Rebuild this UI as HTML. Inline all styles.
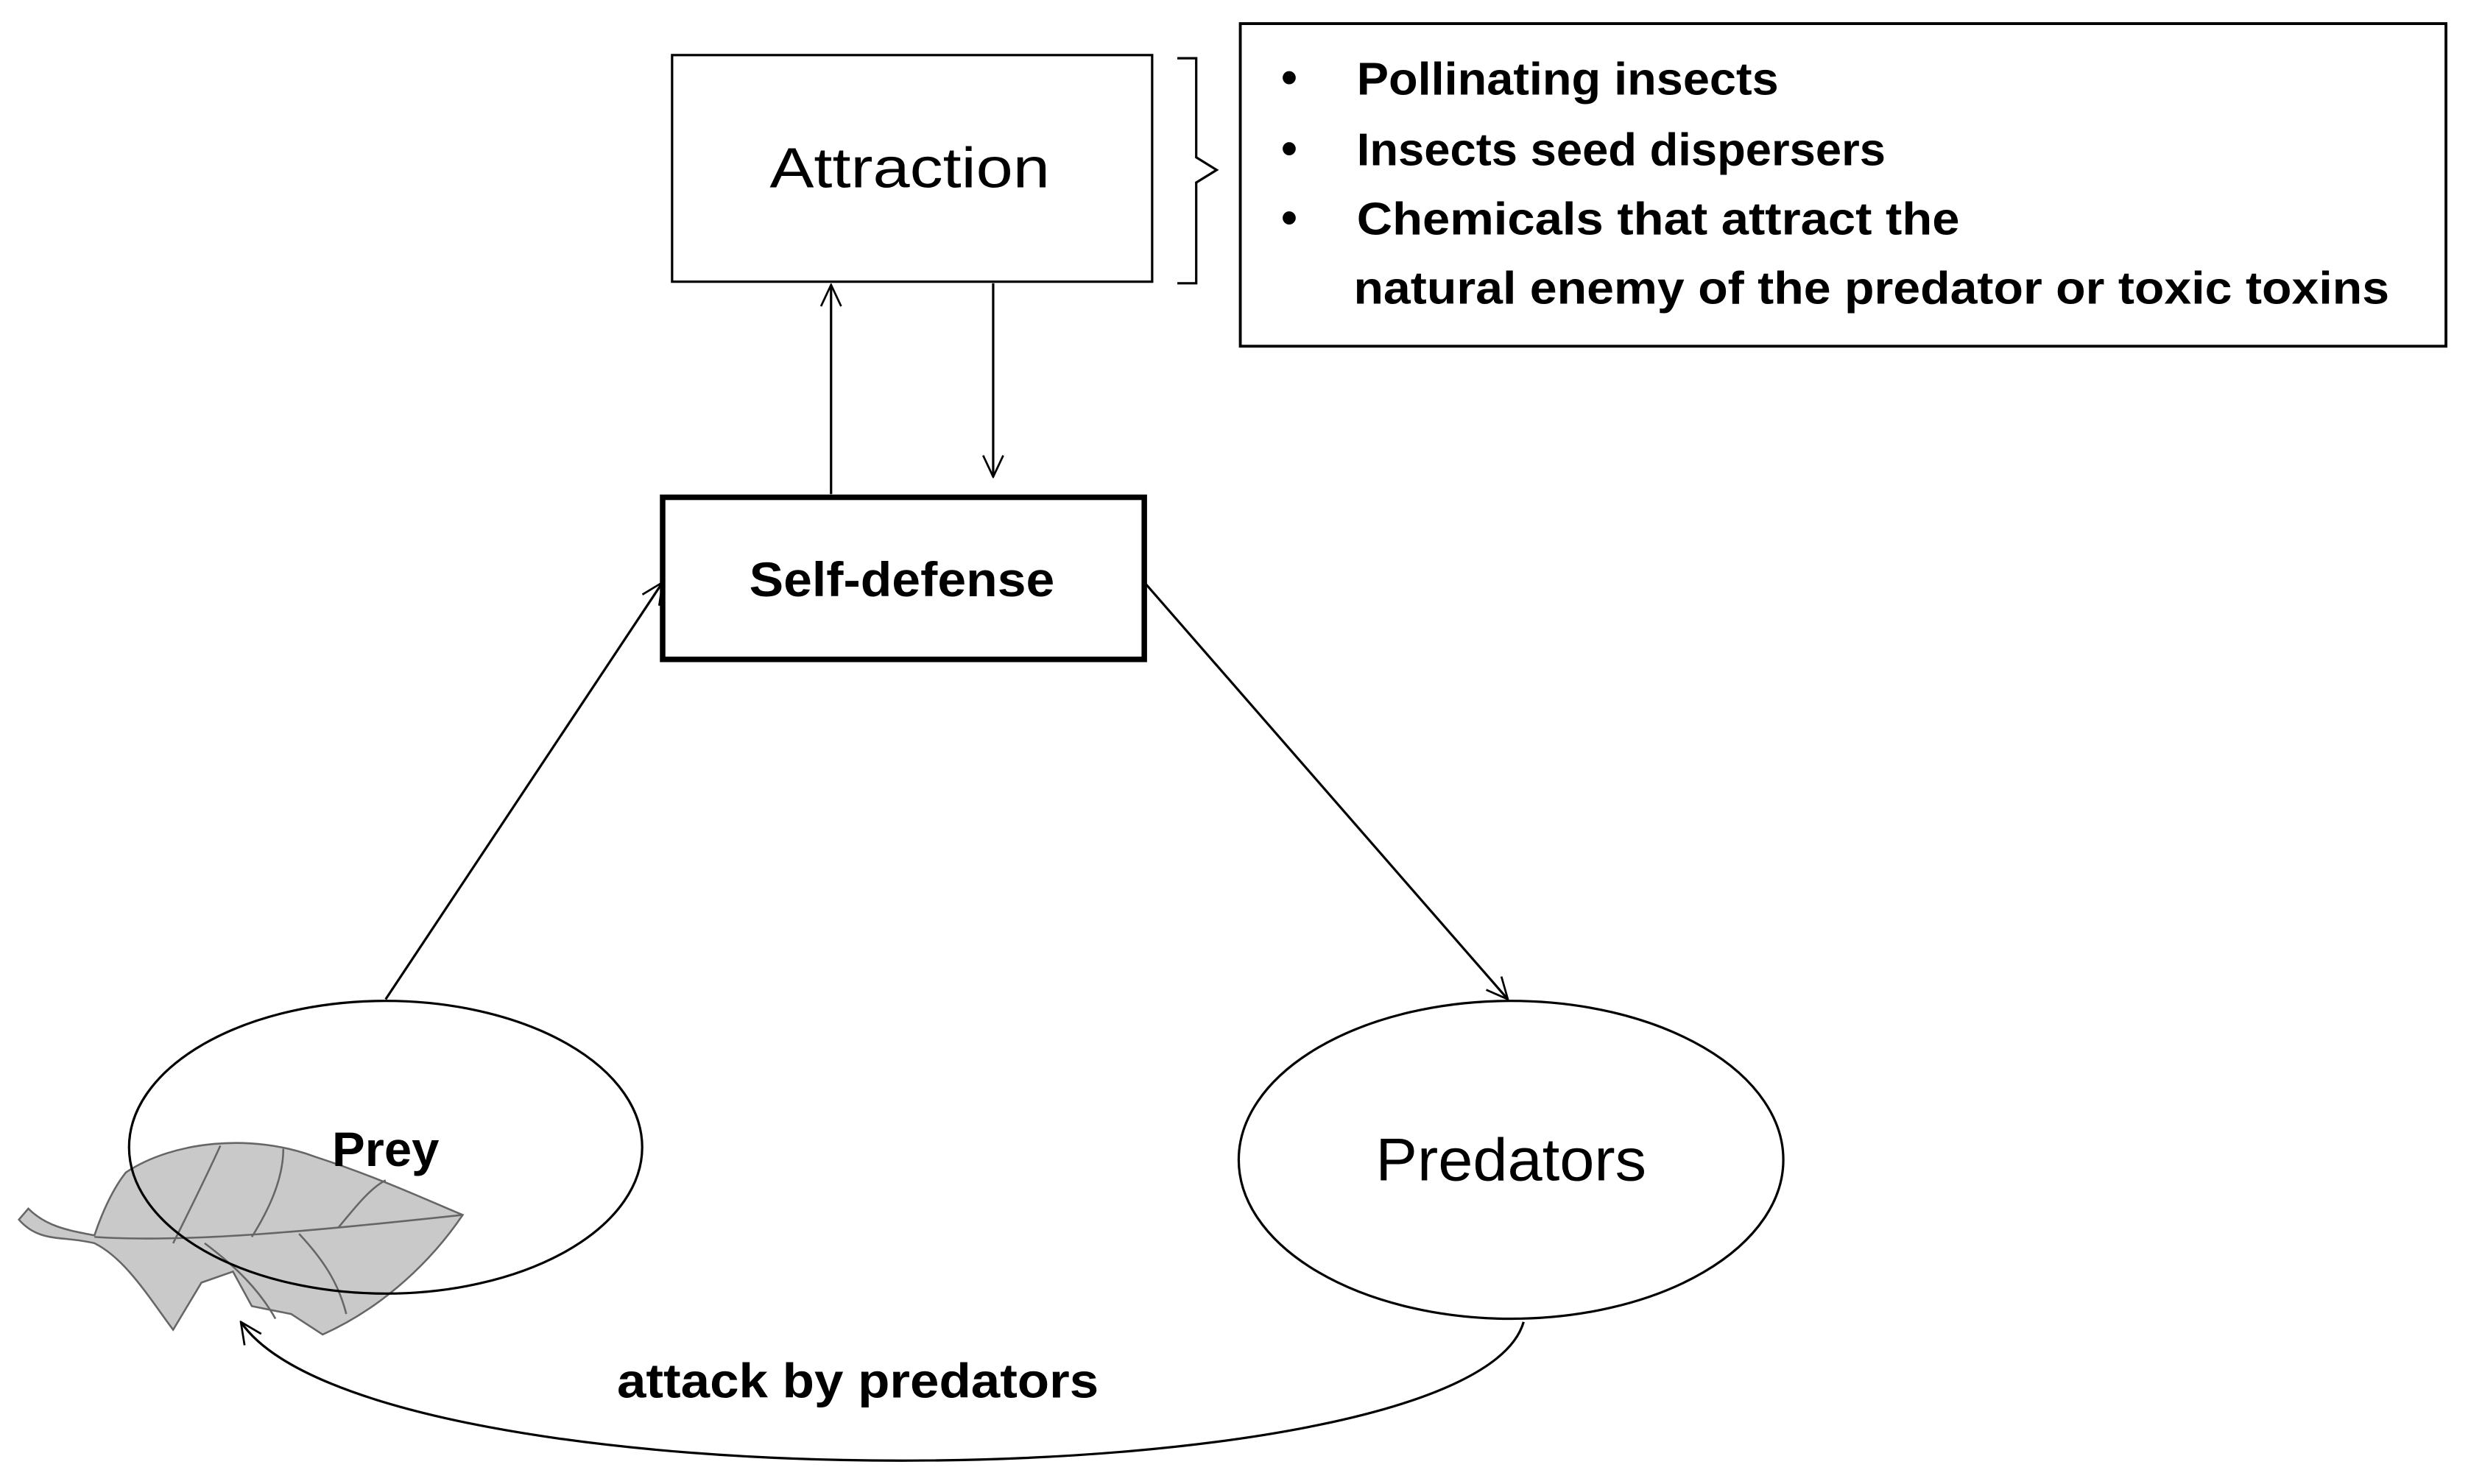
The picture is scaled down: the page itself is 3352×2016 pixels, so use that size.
<!DOCTYPE html>
<html><head><meta charset="utf-8"><style>
html,body{margin:0;padding:0;background:#fff;}
svg{display:block;}
text{font-family:"Liberation Sans",sans-serif;fill:#000;}
</style></head><body>
<svg width="3352" height="2016" viewBox="0 0 1568 943" preserveAspectRatio="none" xmlns="http://www.w3.org/2000/svg">
<defs>
<marker id="a" viewBox="0 0 20 20" refX="19" refY="10" markerWidth="16" markerHeight="16" markerUnits="userSpaceOnUse" orient="auto">
<path d="M2,2 L19,10 L2,18" fill="none" stroke="#000" stroke-width="1.6"/>
</marker>
</defs>
<rect width="1568" height="943" fill="#fff"/>
<rect x="427" y="35" width="305" height="144" fill="none" stroke="#000" stroke-width="1.5"/>
<text x="578" y="119" font-size="36" text-anchor="middle" textLength="178" lengthAdjust="spacingAndGlyphs">Attraction</text>
<path d="M748,37 H760 V100 L773,108 L760,116 V180 H748" fill="none" stroke="#000" stroke-width="1.5"/>
<rect x="788" y="15" width="766" height="205" fill="none" stroke="#000" stroke-width="1.8"/>
<g font-size="29" font-weight="bold">
<text x="814" y="59">•</text>
<text x="814" y="104">•</text>
<text x="814" y="148">•</text>
<text x="862" y="60" textLength="268" lengthAdjust="spacingAndGlyphs">Pollinating insects</text>
<text x="862" y="105" textLength="336" lengthAdjust="spacingAndGlyphs">Insects seed dispersers</text>
<text x="862" y="149" textLength="383" lengthAdjust="spacingAndGlyphs">Chemicals that attract the</text>
<text x="860" y="193" textLength="658" lengthAdjust="spacingAndGlyphs">natural enemy of the predator or toxic toxins</text>
</g>
<line x1="528" y1="314" x2="528" y2="181" stroke="#000" stroke-width="1.5" marker-end="url(#a)"/>
<line x1="631" y1="180" x2="631" y2="303" stroke="#000" stroke-width="1.5" marker-end="url(#a)"/>
<rect x="421" y="316" width="306" height="103" fill="none" stroke="#000" stroke-width="3.5"/>
<text x="573" y="379" font-size="31" font-weight="bold" text-anchor="middle" textLength="194" lengthAdjust="spacingAndGlyphs">Self-defense</text>
<line x1="245" y1="635" x2="421" y2="370" stroke="#000" stroke-width="1.5" marker-end="url(#a)"/>
<line x1="727" y1="370" x2="958" y2="635" stroke="#000" stroke-width="1.5" marker-end="url(#a)"/>
<g stroke="#666" stroke-width="1.2">
<path d="M80,745 C110,725 160,720 200,735 C240,748 270,762 294,772 C275,800 245,830 205,848 L185,835 L160,830 L148,808 L128,815 L110,845 C95,825 80,800 60,790 C40,785 25,790 12,775 L18,768 C30,780 45,782 60,785 C65,770 72,755 80,745 Z" fill="#c9c9c9"/>
<path d="M60,786 C120,790 200,782 294,772 M110,790 C120,770 130,750 140,728 M160,786 C170,770 180,750 180,730 M215,780 C225,768 235,755 245,750 M130,790 C150,805 165,820 175,838 M190,784 C205,800 215,815 220,835" fill="none"/>
</g>
<ellipse cx="245" cy="729" rx="163" ry="93" fill="none" stroke="#000" stroke-width="1.5"/>
<text x="245" y="741" font-size="31" font-weight="bold" text-anchor="middle" textLength="68" lengthAdjust="spacingAndGlyphs">Prey</text>
<ellipse cx="960" cy="737" rx="173" ry="101" fill="none" stroke="#000" stroke-width="1.5"/>
<text x="960" y="750" font-size="38" text-anchor="middle" textLength="172" lengthAdjust="spacingAndGlyphs">Predators</text>
<path d="M968,840 C935,955 235,960 153,840" fill="none" stroke="#000" stroke-width="1.5" marker-end="url(#a)"/>
<text x="545" y="888" font-size="31" font-weight="bold" text-anchor="middle" textLength="306" lengthAdjust="spacingAndGlyphs">attack by predators</text>
</svg>
</body></html>
